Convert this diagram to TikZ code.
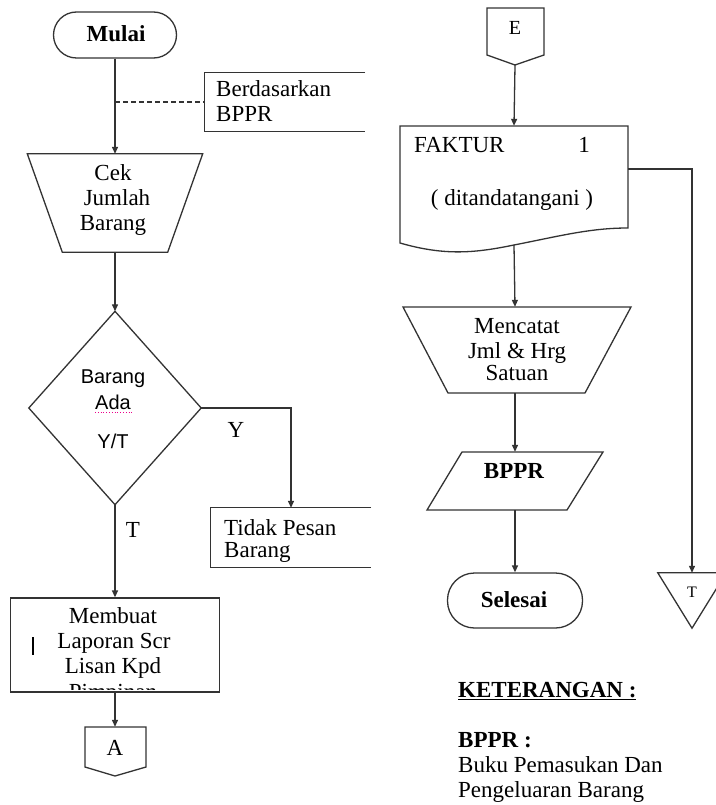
\documentclass[tikz,border=0pt]{standalone}
\usepackage{fontspec}
\setmainfont{Liberation Serif}
\newfontfamily\arialf{Liberation Sans}
\usetikzlibrary{arrows.meta,calc}
\begin{document}
\begin{tikzpicture}[x=1pt,y=-1pt,
  every node/.style={inner sep=0pt, align=center},
  txt/.style={font=\fontsize{23}{25}\selectfont, anchor=base},
  btxt/.style={font=\fontsize{23}{25}\selectfont\bfseries, anchor=base},
  stxt/.style={font=\arialf\fontsize{20}{25}\selectfont, anchor=base},
  shp/.style={draw=black!80, line width=1.3pt},
  ln/.style={draw=black!80, line width=1.3pt},
  arr/.style={draw=black!80, line width=1.3pt, -{Triangle[length=7pt,width=6pt]}},
  sized/.style 2 args={minimum width=#1, minimum height=#2}]
\useasboundingbox[fill=white] (0,0) rectangle (715,805);

% ---------------- left column ----------------
\node[shp, sized={123pt}{46pt}, rounded corners=23pt] (mulai) at (115,35) {};
\node[btxt] (mulait) at (116,42) {Mulai};

\node[sized={160pt}{58pt}] (ann) at (285,102) {};
\draw[ln] (ann.north east) -- (ann.north west) -- (ann.south west) -- (ann.south east);
\node[txt, anchor=base west] (ann1) at (216,97) {Berdasarkan};
\node[txt, anchor=base west] (ann2) at (216,122) {BPPR};

\node[sized={175pt}{98pt}] (cek) at (115,203) {};
\draw[shp] (cek.north west) -- (cek.north east) -- ([xshift=-35pt]cek.south east) -- ([xshift=35pt]cek.south west) -- cycle;
\node[txt] (cek1) at (113,180) {Cek};
\node[txt] (cek2) at (117,205) {Jumlah};
\node[txt] (cek3) at (113,230) {Barang};

\draw[arr] (mulai.south) -- (cek.north);
\coordinate (dj) at (115,102);
\draw[ln, dash pattern=on 5pt off 3pt] (dj) -- (ann.west);

\node[sized={172pt}{193pt}] (dia) at (115,408) {};
\draw[shp] (dia.north) -- (dia.east) -- (dia.south) -- (dia.west) -- cycle;
\node[stxt] (dia1) at (113,383) {Barang};
\node[stxt] (dia2) at (113,409) {Ada};
\node[stxt] (dia3) at (113,448) {Y/T};
\draw[magenta, line width=0.8pt, dotted] (95,412) -- (132,412);
\draw[arr] (cek.south) -- (dia.north);

\node[sized={160pt}{59pt}] (tidak) at (291,537.5) {};
\draw[ln] (tidak.north east) -- (tidak.north west) -- (tidak.south west) -- (tidak.south east);
\node[txt, anchor=base west] (tid1) at (224,535) {Tidak Pesan};
\node[txt, anchor=base west] (tid2) at (224,557) {Barang};
\draw[arr] (dia.east) -| (tidak.north);
\node[txt] (ylab) at (236,437) {Y};
\node[txt] (tlab) at (133,537) {T};

\node[shp, sized={209pt}{94pt}] (mem) at (115,645) {};
\draw[arr] (dia.south) -- (mem.north);
\begin{scope}
  \clip (12,599) rectangle (219,689);
  \node[txt] (mem1) at (113,623) {Membuat};
  \node[txt] (mem2) at (114,648) {Laporan Scr};
  \node[txt] (mem3) at (113,673) {Lisan Kpd};
  \node[txt] (mem4) at (113,699) {Pimpinan};
\end{scope}
\draw[line width=2.6pt] (33,637) -- (33,655);

\node[sized={61pt}{49pt}] (conA) at (115,751.5) {};
\draw[shp] (85,727) -- (146,727) -- (146,767) -- (115,776) -- (85,767) -- cycle;
\node[txt] (conAt) at (115,755) {A};
\draw[arr] (mem.south) -- (conA.north);

% ---------------- right column ----------------
\node[sized={57pt}{57pt}] (conE) at (515,36.5) {};
\draw[shp] (487,8) -- (544,8) -- (544,55) -- (515,65) -- (487,55) -- cycle;
\node[font=\fontsize{20}{24}\selectfont, anchor=base] (conEt) at (515,35) {E};

\node[sized={228pt}{119pt}] (fak) at (514,185.5) {};
\draw[shp] (400,126) -- (628,126) -- (628,228)
   .. controls (590,228) and (560,236) .. (514,245)
   .. controls (475,253) and (445,256) .. (400,243) -- cycle;
\node[font=\fontsize{23}{25}\selectfont, anchor=base west] (fak1) at (414,153) {FAKTUR};
\node[txt] (fak2) at (584,153) {1};
\node[txt] (fak3) at (512,205) {( ditandatangani )};
\draw[arr] (conE.south) -- (fak.north);

\node[sized={68pt}{55pt}] (tri) at (692,600.5) {};
\draw[shp] (tri.north west) -- (tri.north east) -- (tri.south) -- cycle;
\node[font=\fontsize{16}{20}\selectfont, anchor=base] (trit) at (692,597) {T};
\coordinate (fakout) at (628,169);
\draw[arr] (fakout) -| (tri.north);

\node[sized={228pt}{86pt}] (men) at (515,350) {};
\draw[shp] (403,307) -- (631,307) -- (585,393) -- (448,393) -- cycle;
\node[txt] (men1) at (517,333) {Mencatat};
\node[txt] (men2) at (517,358) {Jml \& Hrg};
\node[txt] (men3) at (517,380) {Satuan};
\draw[arr] (fak.south) -- (men.north);

\node[sized={176pt}{58pt}] (bppr) at (515,481) {};
\draw[shp] (462,452) -- (603,452) -- (567,510) -- (427,510) -- cycle;
\node[btxt] (bpprt) at (514,478) {BPPR};
\draw[arr] (men.south) -- (bppr.north);

\node[shp, sized={135pt}{55pt}, rounded corners=27pt] (sel) at (515,600.5) {};
\node[btxt] (selt) at (514,607) {Selesai};
\draw[arr] (bppr.south) -- (sel.north);

% ---------------- legend ----------------
\node[btxt, anchor=base west] (ket) at (458,697) {\underline{KETERANGAN :}};
\node[btxt, anchor=base west] (ket1) at (458,747) {BPPR :};
\node[txt, anchor=base west] (ket2) at (458,772) {Buku Pemasukan Dan};
\node[txt, anchor=base west] (ket3) at (458,797) {Pengeluaran Barang};
\end{tikzpicture}
\end{document}
